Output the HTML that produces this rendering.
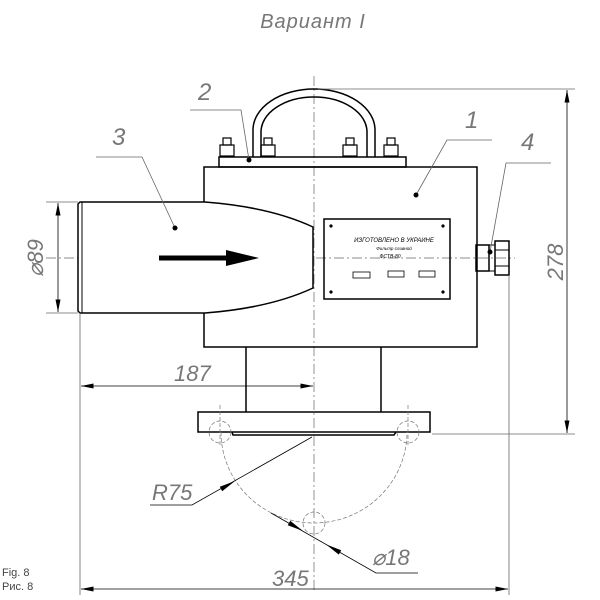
<!DOCTYPE html>
<html><head><style>html,body{margin:0;padding:0;background:#fff}svg{display:block}</style></head>
<body>
<svg width="600" height="600" viewBox="0 0 600 600" xmlns="http://www.w3.org/2000/svg" font-family="Liberation Sans, sans-serif">
<defs>
<marker id="a" viewBox="0 0 10 4" refX="10" refY="2" markerWidth="16" markerHeight="5" markerUnits="userSpaceOnUse" orient="auto-start-reverse"><path d="M0,0L10,2L0,4Z" fill="#000"/></marker>
</defs>
<g fill="none" stroke="#000">
<text x="313" y="28" font-size="20" font-style="italic" fill="#777" stroke="none" text-anchor="middle" letter-spacing="1">Вариант I</text>
<line x1="314" y1="76" x2="314" y2="590" stroke="#666" stroke-width="0.7" stroke-dasharray="10,3,2,3"/>
<line x1="46" y1="258" x2="515" y2="258" stroke="#666" stroke-width="0.7" stroke-dasharray="10,3,2,3"/>
<rect x="204" y="167" width="273" height="180" stroke-width="1.5"/>
<rect x="219" y="157" width="187" height="10" stroke-width="1.5"/>
<path d="M253,157 L253,130 A61,41 0 0 1 375,130 L375,157" stroke-width="1.5"/>
<path d="M261,157 L261,132 A53,35 0 0 1 367,132 L367,157" stroke-width="1.5"/>
<g stroke-width="1.2">
<rect x="220" y="145" width="14" height="11"/><rect x="223" y="138" width="8" height="7"/>
<rect x="261" y="145" width="14" height="11"/><rect x="264" y="138" width="8" height="7"/>
<rect x="343" y="145" width="14" height="11"/><rect x="346" y="138" width="8" height="7"/>
<rect x="384" y="145" width="14" height="11"/><rect x="387" y="138" width="8" height="7"/>
</g>
<path d="M205,202 Q270,207 313,227 L313,288 Q270,308 205,313 L80,313 L78,311 L78,204 L80,202 Z" fill="#fff" stroke-width="1.5"/>
<line x1="82" y1="202" x2="82" y2="313" stroke-width="1"/>
<line x1="159" y1="258" x2="226" y2="258" stroke-width="5"/>
<path d="M226,250 L259,258 L226,266 Z" fill="#000" stroke="none"/>
<rect x="324" y="219" width="126" height="80" stroke-width="1.5"/>
<g fill="#000" stroke="none"><circle cx="331" cy="226" r="1.6"/><circle cx="443" cy="226" r="1.6"/><circle cx="331" cy="292" r="1.6"/><circle cx="443" cy="292" r="1.6"/></g>
<text x="394" y="242" font-size="6" font-style="italic" fill="#000" stroke="none" text-anchor="middle">ИЗГОТОВЛЕНО В УКРАИНЕ</text>
<text x="394" y="250" font-size="4.5" font-style="italic" fill="#000" stroke="none" text-anchor="middle">Фильтр сливной</text>
<text x="390" y="258" font-size="5" font-style="italic" fill="#000" stroke="none" text-anchor="middle">ФСТВ-80</text>
<g stroke-width="0.8"><rect x="353" y="272" width="17" height="6"/><rect x="388" y="271" width="16" height="6"/><rect x="419" y="271" width="16" height="6"/></g>
<rect x="476" y="245" width="13" height="26" stroke-width="1.5"/>
<rect x="489" y="245" width="6" height="26" stroke-width="1"/>
<rect x="495" y="241" width="14" height="34" stroke-width="1.5"/>
<line x1="495" y1="250" x2="509" y2="250"/><line x1="495" y1="266" x2="509" y2="266"/>
<line x1="246" y1="347" x2="246" y2="412" stroke-width="1.5"/>
<line x1="381" y1="347" x2="381" y2="412" stroke-width="1.5"/>
<rect x="198" y="412" width="232" height="20" stroke-width="1.5"/>
<path d="M232,432 L233,435 L394,435 L396,432" stroke-width="1.5"/>
<g stroke="#777" stroke-width="0.7" stroke-dasharray="4,2">
<path d="M221,432 A93,91 0 0 0 407,432"/>
<circle cx="220" cy="432" r="11"/><circle cx="408" cy="432" r="11"/>
<circle cx="314" cy="523" r="11"/>
<line x1="220" y1="405" x2="220" y2="445"/><line x1="408" y1="405" x2="408" y2="445"/>
</g>
<g stroke="#666" stroke-width="0.8">
<path d="M96,157 L142,157 L175,228"/>
<path d="M190,110 L241,110 L249,160"/>
<path d="M492,140 L447,140 L416,195"/>
<path d="M551,163 L506,163 L490,252"/>
</g>
<g fill="#000" stroke="none"><circle cx="175" cy="228" r="2.5"/><circle cx="249" cy="160" r="2.5"/><circle cx="416" cy="195" r="2.5"/><circle cx="490" cy="252" r="2.5"/></g>
<g font-size="24" font-style="italic" fill="#777" stroke="none">
<text x="112" y="145">3</text><text x="198" y="100">2</text><text x="465" y="128">1</text><text x="521" y="150">4</text>
</g>
<g stroke="#666" stroke-width="0.8">
<line x1="46" y1="202" x2="78" y2="202"/><line x1="46" y1="313" x2="78" y2="313"/>
<line x1="58" y1="203" x2="58" y2="312" stroke="#000" marker-start="url(#a)" marker-end="url(#a)"/>
<line x1="80" y1="313" x2="80" y2="595"/>
<line x1="509" y1="275" x2="509" y2="595"/>
<line x1="81" y1="386" x2="313" y2="386" stroke="#000" marker-start="url(#a)" marker-end="url(#a)"/>
<line x1="81" y1="589" x2="508" y2="589" stroke="#000" marker-start="url(#a)" marker-end="url(#a)"/>
<line x1="318" y1="89" x2="575" y2="89"/><line x1="432" y1="434" x2="575" y2="434"/>
<line x1="567" y1="90" x2="567" y2="433" stroke="#000" marker-start="url(#a)" marker-end="url(#a)"/>
<path d="M150,505 L192,505 L312,437" stroke="#000"/>
<path d="M271,513 L376,573 L418,573" stroke="#000"/>
</g>
<g fill="#000" stroke="none">
<path d="M235,481 L222.2,491.2 L219.8,486.8 Z"/>
<path d="M303,531 L287.8,525.2 L290.2,520.8 Z"/>
<path d="M326,544.4 L338.8,554.6 L341.2,550.2 Z"/>
</g>
<g font-size="22" font-style="italic" fill="#777" stroke="none">
<text x="174" y="381">187</text>
<text x="272" y="586">345</text>
<text x="152" y="500">R75</text>
<text x="372" y="565">⌀18</text>
<text transform="translate(43,258) rotate(-90)" text-anchor="middle">⌀89</text>
<text transform="translate(563,262) rotate(-90)" text-anchor="middle">278</text>
</g>
<text x="2" y="576" font-size="11" fill="#444" stroke="none">Fig. 8</text>
<text x="2" y="590" font-size="11" fill="#444" stroke="none">Рис. 8</text>
</g>
</svg>
</body></html>
